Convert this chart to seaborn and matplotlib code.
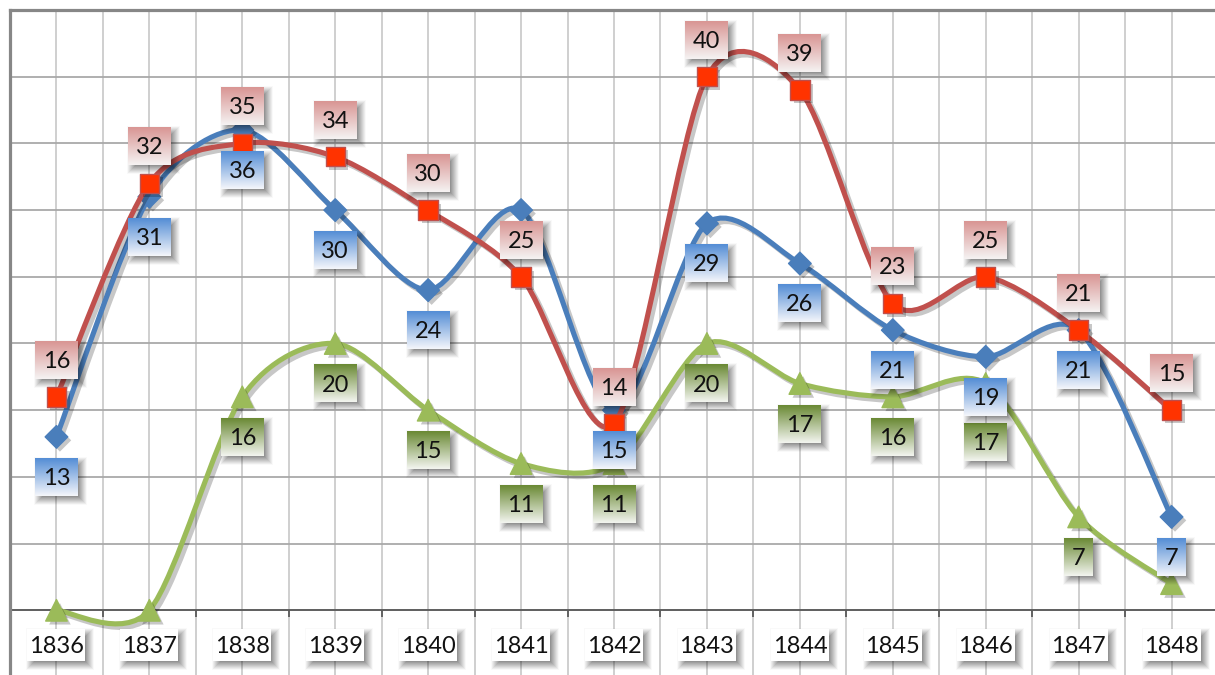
import numpy as np
import matplotlib
matplotlib.use("Agg")
import matplotlib.pyplot as plt
import seaborn as sns
from matplotlib.path import Path
from matplotlib.patches import PathPatch
from matplotlib.offsetbox import OffsetImage, AnnotationBbox
import matplotlib.patheffects as pe

# ---------------- data ----------------
years = ['1836', '1837', '1838', '1839', '1840', '1841', '1842',
         '1843', '1844', '1845', '1846', '1847', '1848']
red_values = [16, 32, 35, 34, 30, 25, 14, 40, 39, 23, 25, 21, 15]
blue_values = [13, 31, 36, 30, 24, 30, 15, 29, 26, 21, 19, 21, 7]
green_values = [0, 0, 16, 20, 15, 11, 11, 20, 17, 16, 17, 7, 2]
# which data labels are visible in the reference
red_show = [True] * 13
blue_show = [True, True, True, True, True, False, True, True, True, True, True, True, True]
green_show = [False, False, True, True, True, True, True, True, True, True, True, True, False]

sns.set_theme(style="white")
plt.rcParams['font.family'] = ['Lato', 'DejaVu Sans']

DPI = 100
fig = plt.figure(figsize=(12.15, 6.75), dpi=DPI)
fig.patch.set_facecolor('white')
ax = fig.add_axes([10 / 1215, (675 - 677) / 675, 1208 / 1215, 667 / 675])
ax.set_facecolor('white')
n = len(years)
xs = np.arange(n)
ax.set_xlim(-0.5, n - 0.5)
ax.set_ylim(-5, 45)

# grid
for yv in np.arange(-5, 46, 5):
    ax.axhline(yv, color='#a9a9a9', lw=1.3, zorder=0.5)
for xv in np.arange(-0.5, n, 0.5):
    ax.axvline(xv, color='#cbcbcb', lw=1.3, zorder=0.4)
ax.set_xticks([])
ax.set_yticks([])
for s in ['right', 'bottom']:
    ax.spines[s].set_visible(False)
for s in ['top', 'left']:
    ax.spines[s].set_color('#878787')
    ax.spines[s].set_linewidth(2.3)

# category axis line + tick marks
ax.axhline(0, color='#5a5a5a', lw=1.3, zorder=1)
ax.vlines(np.arange(-0.5, n, 1.0), -0.5, 0, color='#5a5a5a', lw=1.3, zorder=1)


def smooth_path(xv, yv, k=7.0):
    pts = np.column_stack([xv, yv]).astype(float)
    m = len(pts)
    verts = [pts[0]]
    codes = [Path.MOVETO]
    for i in range(m - 1):
        p0 = pts[max(i - 1, 0)]
        p1 = pts[i]
        p2 = pts[i + 1]
        p3 = pts[min(i + 2, m - 1)]
        c1 = p1 + (p2 - p0) / k
        c2 = p2 - (p3 - p1) / k
        verts += [c1, c2, p2]
        codes += [Path.CURVE4] * 3
    return Path(verts, codes)


shadow_fx = [pe.SimpleLineShadow(offset=(2.5, -2.5), shadow_color='black', alpha=0.22), pe.Normal()]
marker_fx = [pe.SimplePatchShadow(offset=(2.5, -2.5), shadow_rgbFace='black', alpha=0.22), pe.Normal()]

series = [
    ('blue', blue_values, '#4a7ebb', '#4a7ebb', '#4a7ebb', 'D', 11.5, 3.0),
    ('red', red_values, '#c0504d', '#ff3300', '#c0504d', 's', 14.0, 3.1),
    ('green', green_values, '#9bbb59', '#9bbb59', '#9bbb59', '^', 15.5, 3.2),
]
for name, vals, lc, mfc, mec, mk, ms, z in series:
    patch = PathPatch(smooth_path(xs, vals), fill=False, edgecolor=lc, lw=3.7,
                      capstyle='round', joinstyle='round', zorder=z)
    patch.set_path_effects(shadow_fx)
    ax.add_patch(patch)
    sc = sns.scatterplot(x=xs, y=vals, marker=mk, s=ms ** 2, color=mfc,
                         edgecolor=mec, linewidth=1.0, ax=ax, zorder=z + 0.05, legend=False)
    sc.collections[-1].set_path_effects(marker_fx)


def grad_img(top, bottom, w, h):
    t = np.linspace(0, 1, h)[:, None, None]
    top = np.array(matplotlib.colors.to_rgb(top))[None, None, :]
    bottom = np.array(matplotlib.colors.to_rgb(bottom))[None, None, :]
    arr = top * (1 - t) + bottom * t
    return np.repeat(arr, w, axis=1)


def shadow_img(w, h, b=5, alpha=0.5):
    W, H = w + 2 * b, h + 2 * b
    yy, xx = np.mgrid[0:H, 0:W]
    dx = np.minimum(xx + 0.5, W - xx - 0.5)
    dy = np.minimum(yy + 0.5, H - yy - 0.5)
    a = np.clip(np.minimum(dx, dy) / (2 * b), 0, 1) * alpha
    arr = np.zeros((H, W, 4))
    arr[..., 3] = a
    return arr


PT = 72.0 / DPI


def boxed_label(x, y, text, dy_px, top, bottom, z, w=None, h=38, fs=17):
    if w is None:
        w = int(16 + 13.5 * len(text))
    sh = AnnotationBbox(OffsetImage(shadow_img(w, h), zoom=1, dpi_cor=False), (x, y),
                        xybox=(4 * PT, (dy_px - 4) * PT), xycoords='data', boxcoords='offset points',
                        frameon=False, pad=0, zorder=z, annotation_clip=False)
    ax.add_artist(sh)
    bx = AnnotationBbox(OffsetImage(grad_img(top, bottom, w, h), zoom=1, dpi_cor=False), (x, y),
                        xybox=(0, dy_px * PT), xycoords='data', boxcoords='offset points',
                        frameon=False, pad=0, zorder=z + 0.01, annotation_clip=False)
    ax.add_artist(bx)
    ax.annotate(text, (x, y), xytext=(0, (dy_px - 1.5) * PT), textcoords='offset points',
                ha='center', va='center', fontsize=fs, color='#111111', zorder=z + 0.02,
                annotation_clip=False)


for i in range(n):
    if green_show[i]:
        # the 1846 green label sits lower in the reference (moved clear of the blue one)
        dy = -58 if years[i] == '1846' else -40
        boxed_label(xs[i], green_values[i], str(green_values[i]), dy, '#6b8a35', '#f2f4ee', 10)
for i in range(n):
    if blue_show[i]:
        boxed_label(xs[i], blue_values[i], str(blue_values[i]), -40, '#558ed5', '#f3f5fa', 11)
for i in range(n):
    if red_show[i]:
        boxed_label(xs[i], red_values[i], str(red_values[i]), 37, '#d99694', '#f5f2f2', 12)

# category labels
for i in range(n):
    boxed_label(xs[i], 0, years[i], -35, '#ffffff', '#ffffff', 20, w=58, h=32)

fig.savefig('out.png', dpi=DPI, facecolor='white')
